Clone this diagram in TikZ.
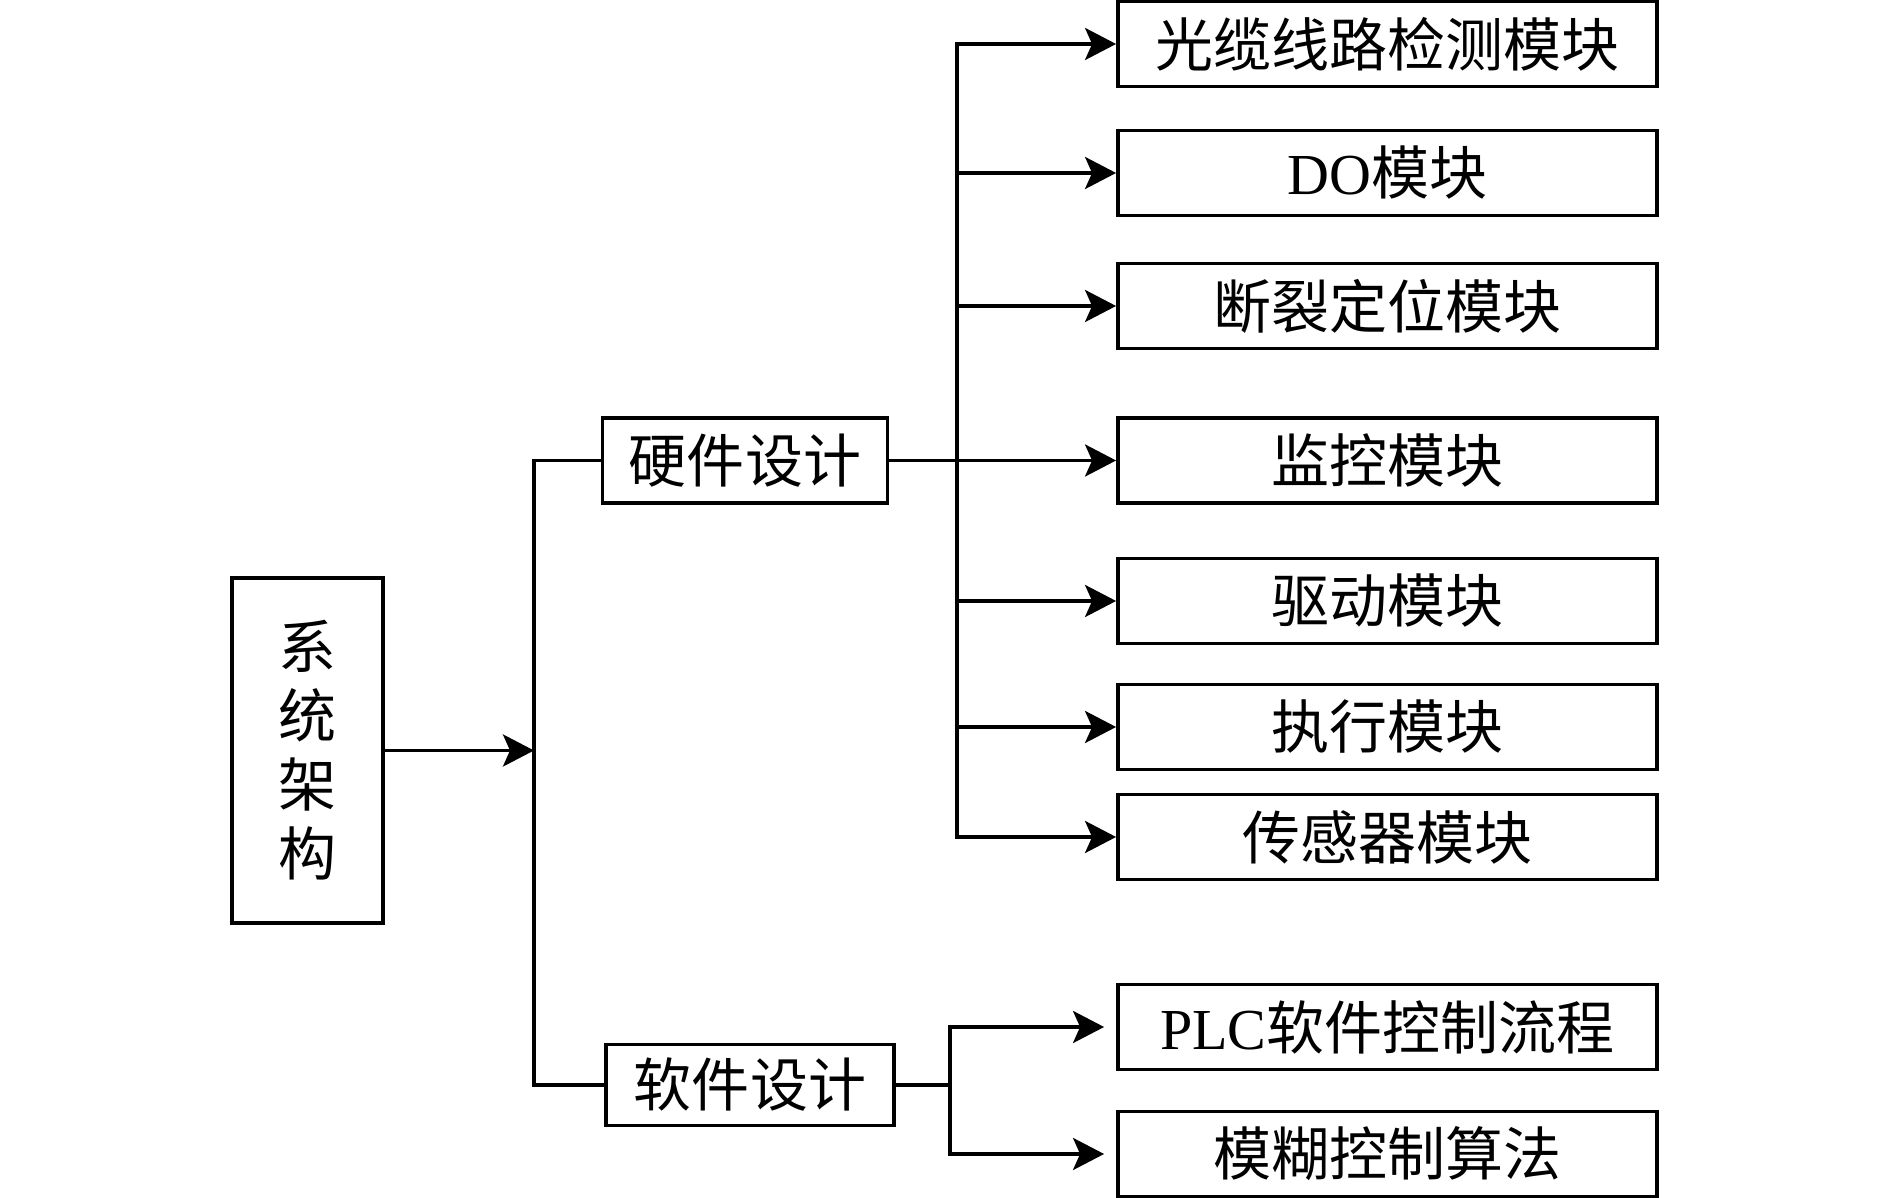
\documentclass[tikz,border=0pt]{standalone}
\usepackage{fontspec}
\setmainfont{Liberation Serif}
\newfontfamily\cjk{Noto Sans CJK SC}
\usetikzlibrary{arrows.meta}

\begin{document}
\begin{tikzpicture}[x=0.01cm,y=-0.01cm,line width=1pt,
  >={Stealth[length=0.31cm,width=0.32cm,inset=0.07cm]},
  box/.style={draw,inner sep=0pt,minimum height=0.85cm,font=\cjk\fontsize{16.5}{19.6}\selectfont},
  mod/.style={box,minimum width=5.39cm}]
\useasboundingbox (0,0) rectangle (1890,1198);

\node[box,minimum width=1.51cm,minimum height=3.45cm,align=center] (sys) at (307.5,750.5) {系\\统\\架\\构};
\node[box,minimum width=2.85cm] (hw) at (745,460.5) {硬件设计};
\node[box,minimum width=2.88cm,minimum height=0.81cm] (sw) at (750,1085) {软件设计};

\node[mod] (m1) at (1387.5,44) {光缆线路检测模块};
\node[mod] (m2) at (1387.5,173) {{\rmfamily DO}模块};
\node[mod] (m3) at (1387.5,306) {断裂定位模块};
\node[mod] (m4) at (1387.5,460.5) {监控模块};
\node[mod] (m5) at (1387.5,601) {驱动模块};
\node[mod] (m6) at (1387.5,727) {执行模块};
\node[mod] (m7) at (1387.5,837) {传感器模块};
\node[mod] (m8) at (1387.5,1027) {{\rmfamily PLC}软件控制流程};
\node[mod] (m9) at (1387.5,1154) {模糊控制算法};

\coordinate (trunk) at (534,751);
\coordinate (hbus) at (957,0);
\coordinate (sbus) at (950,0);

\draw[->] (sys.east) -- (sys.east -| trunk);
\draw (hw.west) -- (hw.west -| trunk) |- (sw.west);

\draw (hw.east) -- (hw.east -| hbus);
\draw[->] (hw.east -| hbus) |- (m1.west);
\draw[->] (hw.east -| hbus) |- (m7.west);
\foreach \m in {m2,m3,m4,m5,m6}
  \draw[->] (\m.west -| hbus) -- (\m.west);

\draw (sw.east) -- (sw.east -| sbus);
\draw[->,shorten >=0.12cm] (sw.east -| sbus) |- (m8.west);
\draw[->,shorten >=0.12cm] (sw.east -| sbus) |- (m9.west);
\end{tikzpicture}
\end{document}
